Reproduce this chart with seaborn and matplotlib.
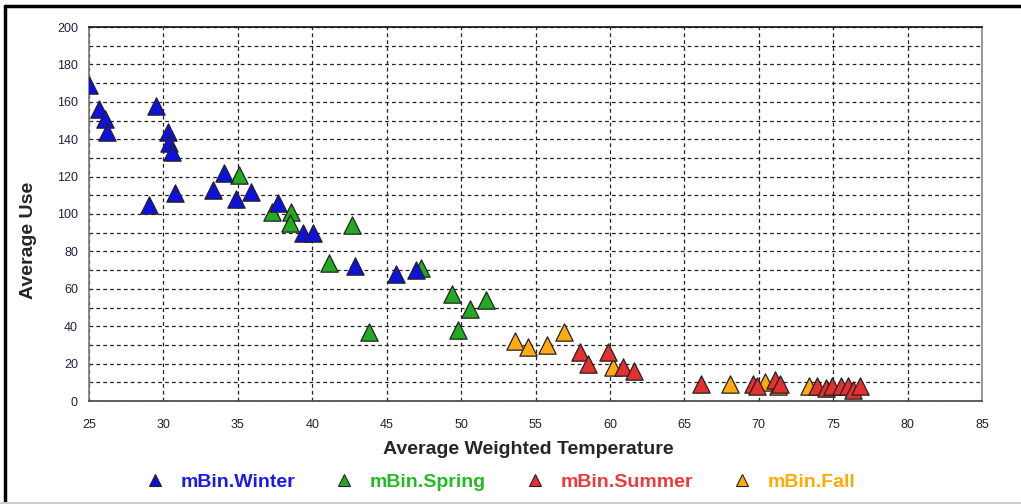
import numpy as np
import pandas as pd
import matplotlib
matplotlib.use("Agg")
import matplotlib.pyplot as plt
from matplotlib.lines import Line2D
from matplotlib.ticker import MultipleLocator
import seaborn as sns

# ---- data ----
winter_x = [25.0, 25.7, 26.1, 26.2, 29.5, 30.3, 30.4, 30.6, 30.8, 29.0, 33.3, 34.1, 34.9, 35.9, 37.7, 39.4, 40.05, 42.9, 45.6, 47.0]
winter_y = [169, 156, 151, 144, 158, 144, 138, 133, 111, 105, 113, 122, 108, 112, 106, 90, 90, 72, 68, 70]

spring_x = [35.1, 37.3, 38.6, 38.5, 42.7, 41.1, 43.8, 47.3, 49.4, 50.6, 51.7, 49.8]
spring_y = [121, 101, 101, 95, 94, 74, 37, 71, 57, 49, 54, 38]

summer_x = [58.0, 58.5, 59.9, 60.9, 61.6, 66.1, 69.6, 69.9, 71.1, 71.4, 73.9, 74.5, 74.9, 75.5, 76.0, 76.3, 76.8]
summer_y = [26, 20, 26, 18, 16, 9, 9, 8, 11, 9, 8, 7, 8, 8, 8, 6, 8]

fall_x = [53.6, 54.5, 55.8, 56.9, 60.2, 68.1, 70.4, 71.3, 73.4]
fall_y = [32, 29, 30, 37, 18, 9, 10, 8, 8]

series_names = ["mBin.Winter", "mBin.Spring", "mBin.Summer", "mBin.Fall"]
colors = {"mBin.Winter": "#1010dd", "mBin.Spring": "#22aa22",
          "mBin.Summer": "#e33030", "mBin.Fall": "#ffaa11"}
text_colors = {"mBin.Winter": "#1a1aee", "mBin.Spring": "#22bb22",
               "mBin.Summer": "#ee3a3a", "mBin.Fall": "#ffaa00"}

x_ticks = [25, 30, 35, 40, 45, 50, 55, 60, 65, 70, 75, 80, 85]
y_ticks = [0, 20, 40, 60, 80, 100, 120, 140, 160, 180, 200]

frames = []
for name, xs, ys in [("mBin.Winter", winter_x, winter_y), ("mBin.Spring", spring_x, spring_y),
                     ("mBin.Summer", summer_x, summer_y), ("mBin.Fall", fall_x, fall_y)]:
    frames.append(pd.DataFrame({"temp": xs, "use": ys, "season": name}))
df = pd.concat(frames, ignore_index=True)

sns.set_style("white")
plt.rcParams["font.family"] = ["Liberation Sans", "DejaVu Sans"]

fig = plt.figure(figsize=(10.21, 5.04), dpi=100)
ax = fig.add_axes([89 / 1021, 1 - 401 / 504, (982 - 89) / 1021, (401 - 27) / 504])

# draw order: spring, winter, fall, summer
for i, name in enumerate(["mBin.Spring", "mBin.Winter", "mBin.Fall", "mBin.Summer"]):
    sub = df[df["season"] == name]
    sns.scatterplot(data=sub, x="temp", y="use", ax=ax, marker="^", s=155,
                    color=colors[name], edgecolor="#222222", linewidth=0.9,
                    legend=False, zorder=3 + i)

ax.set_xlim(25, 85)
ax.set_ylim(0, 200)
ax.set_xticks(x_ticks)
ax.set_yticks(y_ticks)
ax.yaxis.set_minor_locator(MultipleLocator(10))
ax.tick_params(axis="x", which="major", direction="out", length=8, width=1, color="#333333",
               labelsize=9, labelcolor="#202030", pad=5)
ax.tick_params(axis="y", which="major", direction="out", length=5, width=1, color="#555555",
               labelsize=9, labelcolor="#202040", pad=3)
ax.tick_params(axis="y", which="minor", direction="out", length=5, width=1, color="#555555")

ax.grid(True, which="major", axis="x", linestyle=(0, (3, 2.5)), color="#222222", linewidth=0.9)
ax.grid(True, which="both", axis="y", linestyle=(0, (3, 2.5)), color="#222222", linewidth=0.9)
ax.set_axisbelow(True)

for side, c in [("left", "#777777"), ("right", "#888888"), ("top", "#111111"), ("bottom", "#444444")]:
    ax.spines[side].set_visible(True)
    ax.spines[side].set_color(c)
    ax.spines[side].set_linewidth(1.2)

ax.set_xlabel("Average Weighted Temperature", fontsize=14, fontweight="bold")
ax.set_ylabel("Average Use", fontsize=14, fontweight="bold")
ax.xaxis.set_label_coords((528 - 89) / 893, (401 - 449) / 374)
ax.yaxis.set_label_coords((28 - 89) / 893, (401 - 240) / 374)
ax.xaxis.label.set_va("center")
ax.yaxis.label.set_va("center")

# legend
handles = [Line2D([0], [0], marker="^", linestyle="none", markersize=9,
                  markerfacecolor=colors[n], markeredgecolor="#222222", markeredgewidth=0.8)
           for n in series_names]
leg = fig.legend(handles, series_names, loc="center", bbox_to_anchor=(0.49, 0.044), ncol=4,
                 frameon=False, handlelength=1.0, handletextpad=0.83, columnspacing=2.0,
                 prop={"weight": "bold", "size": 14})
for t, n in zip(leg.get_texts(), series_names):
    t.set_color(text_colors[n])

# outer frame lines
fig.add_artist(Line2D([5 / 1021, 5 / 1021], [0, 1 - 6 / 504], transform=fig.transFigure,
                      color="black", linewidth=2.5))
fig.add_artist(Line2D([5 / 1021, 1], [1 - 6 / 504, 1 - 6 / 504], transform=fig.transFigure,
                      color="black", linewidth=2.5))
fig.add_artist(Line2D([0, 1], [1 / 504, 1 / 504], transform=fig.transFigure,
                      color="#cccccc", linewidth=1.5))

fig.savefig("out.png", dpi=100)
